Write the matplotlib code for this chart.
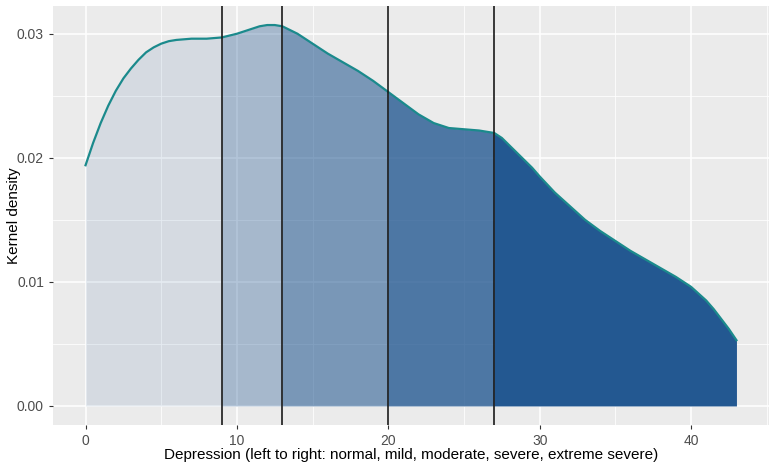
import matplotlib
matplotlib.use("Agg")
import matplotlib.pyplot as plt
import numpy as np

plt.rcParams['font.family'] = ['Liberation Sans', 'DejaVu Sans']

# Data
score = [0, 0.5, 1, 1.5, 2, 2.5, 3, 3.5, 4, 4.5, 5, 5.5, 6, 7, 8, 9,
         10, 11, 11.5, 12, 12.5, 13, 13.5, 14, 15, 16, 17, 18, 19,
         20, 21, 22, 23, 23.5, 24, 25, 26, 27, 27.5, 28, 28.5, 29, 29.5,
         30, 31, 32, 33, 34, 35, 36, 37, 38, 39,
         40, 41, 41.5, 42, 42.5, 43]
density = [0.0194, 0.0212, 0.0228, 0.0242, 0.0254, 0.0264, 0.0272, 0.0279, 0.0285, 0.0289,
           0.0292, 0.0294, 0.0295, 0.0296, 0.0296, 0.0297,
           0.0300, 0.0304, 0.0306, 0.0307, 0.0307, 0.0306, 0.0303, 0.0300, 0.0292, 0.0284,
           0.0277, 0.0270, 0.0262,
           0.0253, 0.0244, 0.0235, 0.0228, 0.0226, 0.0224, 0.0223, 0.0222, 0.0220, 0.0216,
           0.0210, 0.0204, 0.0198, 0.0192,
           0.0185, 0.0172, 0.0161, 0.0150, 0.0141, 0.0133, 0.0125, 0.0118, 0.0111, 0.0104,
           0.0096, 0.0085, 0.0078, 0.0070, 0.0062, 0.0053]
cutoffs = [9, 13, 20, 27]
band_alpha = [0.11, 0.34, 0.57, 0.79, 1.0]
xticks = [0, 10, 20, 30, 40]
yticks = [0.00, 0.01, 0.02, 0.03]
ytick_labels = ["0.00", "0.01", "0.02", "0.03"]

x = np.array(score, dtype=float)
y = np.array(density)

fig = plt.figure(figsize=(7.78, 4.67), dpi=100)
ax = fig.add_axes([53/778, (467-425)/467, (769-53)/778, (425-6)/467])
ax.set_facecolor('#EBEBEB')
for s in ax.spines.values():
    s.set_visible(False)

xmin, xmax = 0, 43
xr = xmax - xmin
ymax = max(density)
ax.set_xlim(xmin - 0.05*xr, xmax + 0.05*xr)
ax.set_ylim(-0.05*ymax, ymax*1.05)

# grid
ax.set_xticks(xticks)
ax.set_xticks([5, 15, 25, 35, 45], minor=True)
ax.set_yticks(yticks)
ax.set_yticklabels(ytick_labels)
ax.set_yticks([0.005, 0.015, 0.025], minor=True)
ax.grid(True, which='major', color='white', linewidth=1.1)
ax.grid(True, which='minor', color='white', linewidth=0.55)
ax.set_axisbelow(True)

edges = [xmin] + cutoffs + [xmax]
base = '#235891'
for i in range(len(edges) - 1):
    m = (x >= edges[i]) & (x <= edges[i+1])
    ax.fill_between(x[m], 0, y[m], color=base, alpha=band_alpha[i], linewidth=0, zorder=2)

ax.plot(x, y, color='#1B8A8C', linewidth=1.6, zorder=4, solid_joinstyle='round')

for c in cutoffs:
    ax.axvline(c, color='#1a1a1a', linewidth=1.2, zorder=5)

ax.tick_params(axis='both', which='major', length=3, width=0.8, color='#333333',
               labelcolor='#4D4D4D', labelsize=10)
ax.tick_params(axis='both', which='minor', length=0)
ax.set_xlabel("Depression (left to right: normal, mild, moderate, severe, extreme severe)",
              fontsize=11, color='black', labelpad=0)
ax.set_ylabel("Kernel density", fontsize=11, color='black', va='center')
ax.yaxis.set_label_coords(-0.054, 0.5)

fig.savefig("out.png", dpi=100)
